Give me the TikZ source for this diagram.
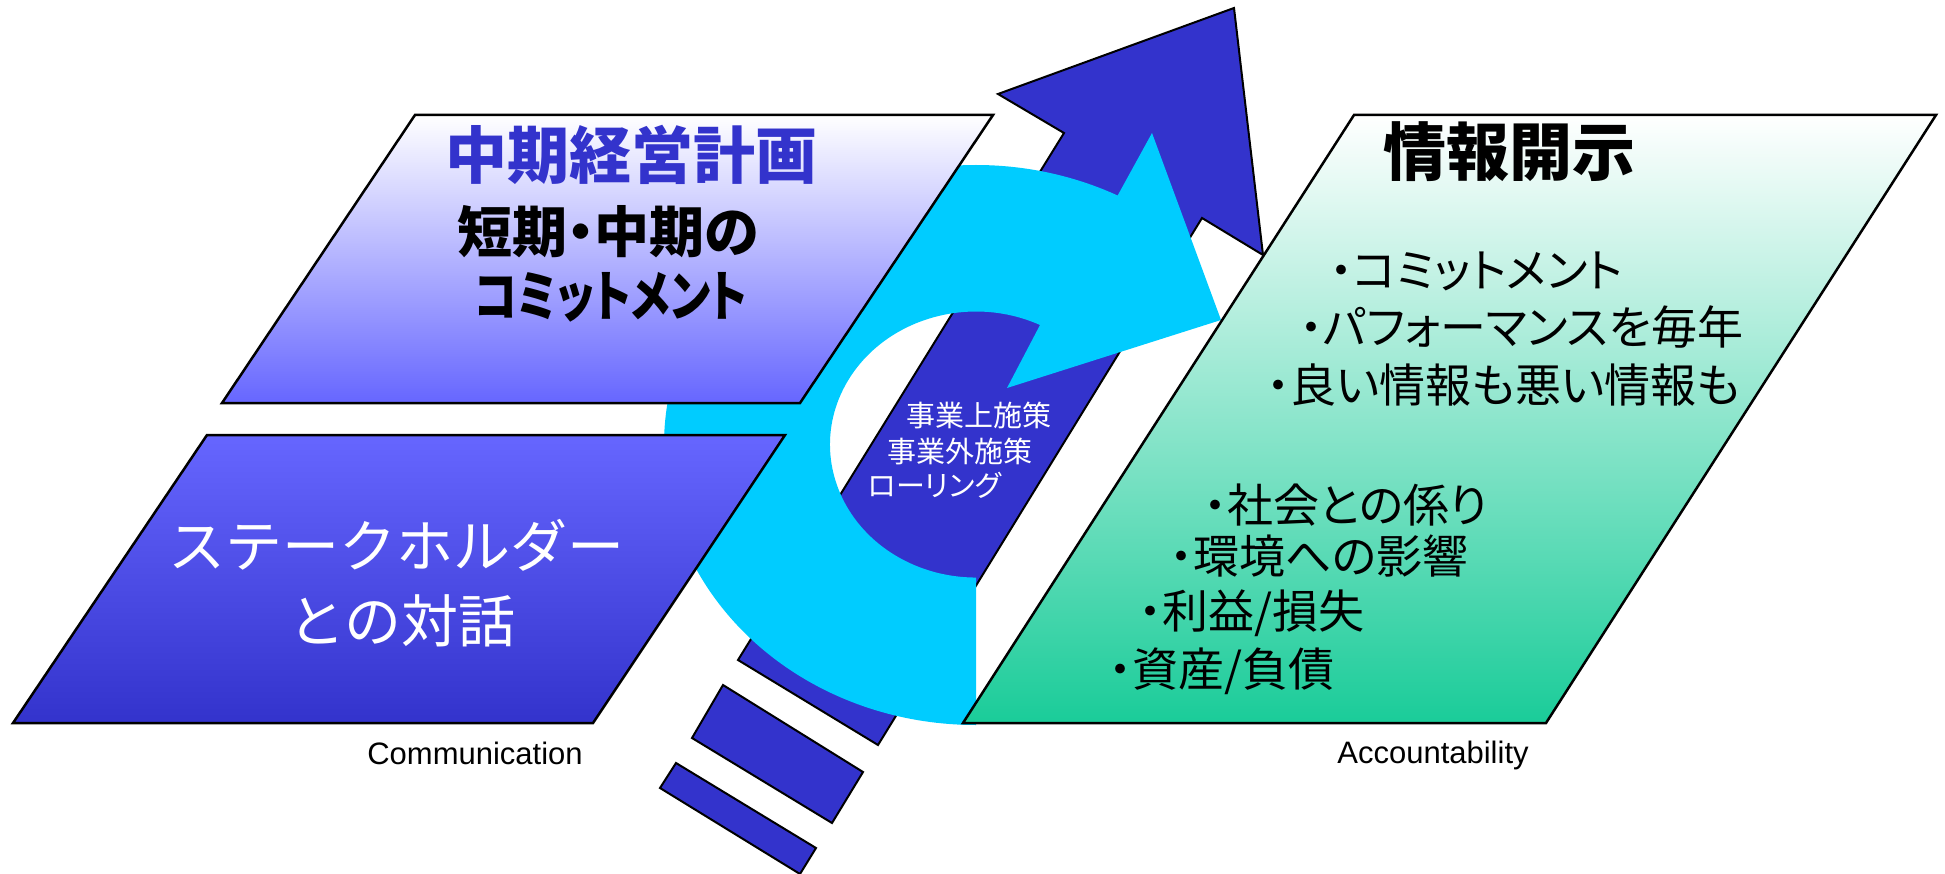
\documentclass[tikz,border=0pt]{standalone}
\usepackage{fontspec}
\setmainfont{Liberation Sans}
\newfontfamily\jpfont{Noto Sans CJK JP}
\newfontfamily\jppfont[RawFeature=+palt]{Noto Sans CJK JP}
\definecolor{darkarrow}{HTML}{3333CC}
\definecolor{planblue}{HTML}{6666FF}
\definecolor{ringcyan}{HTML}{00CCFF}
\definecolor{discgreen}{HTML}{1ACC99}
\tikzset{
  panel/.style={draw=black, line width=2.5pt},
  bluebar/.style={fill=darkarrow, draw=black, line width=2pt},
  txt/.style={inner sep=0pt},
  item/.style={inner sep=0pt, anchor=west, font=\jppfont\fontsize{46}{46}\selectfont},
  looptxt/.style={inner sep=0pt, anchor=west, text=white, font=\jppfont\fontsize{29}{29}\selectfont}
}
\begin{document}
\begin{tikzpicture}[x=1pt, y=-1pt]
  \useasboundingbox (0,0) rectangle (1945,874);
  % rising arrow with its broken tail
  \draw[bluebar] (738,660) -- (1064,133) -- (998,94) -- (1234,8) -- (1263,255) -- (1202,218) -- (878,745) -- cycle;
  \draw[bluebar] (723,685) -- (863,772) -- (832,823) -- (692,738) -- cycle;
  \draw[bluebar] (676,763) -- (816,848) -- (800,874) -- (660,788) -- cycle;
  % circular arrow
  \fill[ringcyan] (976,725) arc[start angle=90, end angle=297, x radius=312, y radius=280]
    -- (1152,133) -- (1221,320) -- (1007,388) -- (1040,325)
    arc[start angle=296, end angle=90, x radius=146, y radius=133] -- cycle;
  \node[looptxt] (loop1) at (906,415) {事業上施策};
  \node[looptxt] (loop2) at (887,451) {事業外施策};
  \node[looptxt] (loop3) at (868,485) {ローリング};
  % panels
  \draw[panel, top color=white, middle color=planblue!40!white, bottom color=planblue] (415,115) -- (993,115) -- (800,403) -- (222,403) -- cycle;
  \draw[panel, top color=planblue, bottom color=darkarrow] (207,435) -- (785,435) -- (593,723) -- (13,723) -- cycle;
  \draw[panel, top color=white, middle color=discgreen!18!white, bottom color=discgreen] (1354,115) -- (1936,115) -- (1546,723) -- (963,723) -- cycle;
  % plan
  \node[txt, text=darkarrow] (plantitle) at (631,155) {\jpfont\bfseries\fontsize{62}{62}\selectfont 中期経営計画};
  \node[txt] (planterm) at (608,232) {\jppfont\bfseries\fontsize{55}{55}\selectfont 短期・中期の};
  \node[txt] (plancommit) at (611,297) {\scalebox{0.8}[1]{\jppfont\bfseries\fontsize{55}{55}\selectfont コミットメント}};
  % dialogue
  \node[txt, text=white] (talk1) at (396,545) {\jpfont\fontsize{57}{57}\selectfont ステークホルダー};
  \node[txt, text=white] (talk2) at (402,621) {\jpfont\fontsize{57}{57}\selectfont との対話};
  % disclosure
  \node[txt] (disctitle) at (1509,152) {\jpfont\bfseries\fontsize{63}{63}\selectfont 情報開示};
  \node[item] (disc1) at (1330,271) {・コミットメント};
  \node[item] (disc2) at (1300,327) {・パフォーマンスを毎年};
  \node[item] (disc3) at (1267,385) {・良い情報も悪い情報も};
  \node[item] (disc4) at (1204,505) {・社会との係り};
  \node[item] (disc5) at (1170,556) {・環境への影響};
  \node[item] (disc6) at (1139,613) {・利益/損失};
  \node[item] (disc7) at (1109,671) {・資産/負債};
  % captions
  \node[txt, anchor=base, font=\fontsize{31}{31}\selectfont] (comm) at (475,764) {Communication};
  \node[txt, anchor=base, font=\fontsize{31}{31}\selectfont] (acct) at (1433,763) {Accountability};
\end{tikzpicture}
\end{document}
